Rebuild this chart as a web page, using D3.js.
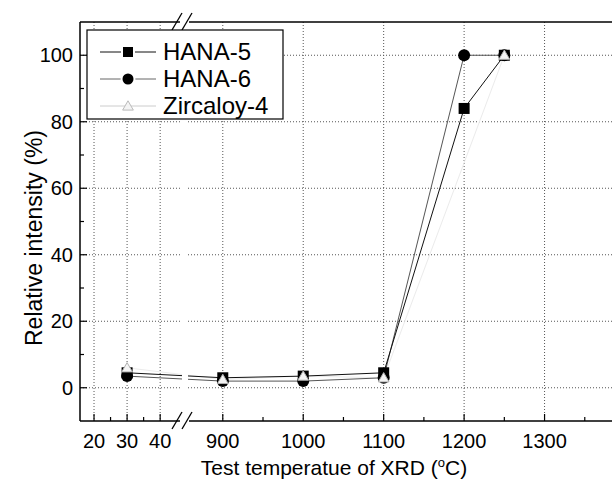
<!DOCTYPE html>
<html><head><meta charset="utf-8">
<script src="https://cdn.jsdelivr.net/npm/d3@7"></script>
<style>body{margin:0;background:#fff}svg{display:block}</style>
</head><body>
<svg id="c" width="612" height="480"></svg>
<script>
const temps = [30, 900, 1000, 1100, 1200, 1250];
const hana5 = [4.5, 3, 3.5, 4.5, 84, 100];
const hana6 = [3.5, 2, 2, 3, 100, 100];
const zircTemps = [30, 900, 1000, 1100, 1250];
const zirc = [6, 2.5, 3.5, 3, 100];
const seriesNames = ["HANA-5", "HANA-6", "Zircaloy-4"];
const xMajorLow = [20, 30, 40];
const xMinorLow = [25, 35];
const xMajorHigh = [900, 1000, 1100, 1200, 1300];
const xMinorHigh = [950, 1050, 1150, 1250, 1350];
const yMajor = [0, 20, 40, 60, 80, 100];
const yMinor = [10, 30, 50, 70, 90];

const svg = d3.select("#c");
const L = 80, T = 22, B = 421, R = 640;
const brkA = 180, brkB = 189;
const x = d3.scaleLinear().domain([15.76, 46, 858, 1400]).range([L, brkA, brkB, 625]);
const y = d3.scaleLinear().domain([-10, 110]).range([B, T]);
const font = "'Liberation Sans', Arial, sans-serif";

// grid
const gx = [...xMajorLow, ...xMajorHigh];
svg.append("g").selectAll("line").data(gx).join("line")
  .attr("x1", d => x(d)).attr("x2", d => x(d)).attr("y1", T).attr("y2", B)
  .attr("stroke", "#555").attr("stroke-width", 1).attr("stroke-dasharray", "1,2");
svg.append("g").selectAll("line").data(yMajor).join("line")
  .attr("x1", L).attr("x2", R).attr("y1", d => y(d)).attr("y2", d => y(d))
  .attr("stroke", "#555").attr("stroke-width", 1).attr("stroke-dasharray", "1,2");

// series
const line = d3.line().x(d => x(d[0])).y(d => y(d[1]));
const s5 = temps.map((t, i) => [t, hana5[i]]);
const s6 = temps.map((t, i) => [t, hana6[i]]);
const sz = zircTemps.map((t, i) => [t, zirc[i]]);
const plot = svg.append("g");
plot.append("path").attr("d", line(sz)).attr("fill", "none").attr("stroke", "#ebebeb").attr("stroke-width", 1);
plot.append("path").attr("d", line(s6)).attr("fill", "none").attr("stroke", "#555").attr("stroke-width", 1);
plot.append("path").attr("d", line(s5)).attr("fill", "none").attr("stroke", "#111").attr("stroke-width", 1);
// break gap over data lines
svg.append("rect").attr("x", brkA + 2).attr("y", T + 2).attr("width", brkB - brkA - 3).attr("height", B - T - 4).attr("fill", "#fff");

const sq = 11;
plot.append("g").selectAll("rect").data(s5).join("rect")
  .attr("x", d => x(d[0]) - sq / 2).attr("y", d => y(d[1]) - sq / 2)
  .attr("width", sq).attr("height", sq).attr("fill", "#000");
plot.append("g").selectAll("circle").data(s6).join("circle")
  .attr("cx", d => x(d[0])).attr("cy", d => y(d[1])).attr("r", 6).attr("fill", "#000");
const tri = d3.symbol().type(d3.symbolTriangle).size(50);
const triG = svg.append("g");
triG.selectAll("path").data(sz).join("path")
  .attr("transform", d => `translate(${x(d[0])},${y(d[1]) + 1})`)
  .attr("d", tri).attr("fill", "#f4f4f4").attr("stroke", "#b0b0b0").attr("stroke-width", 1);

// axes frame
const ax = svg.append("g").attr("stroke", "#000").attr("stroke-width", 1.5);
ax.append("line").attr("x1", L).attr("x2", L).attr("y1", T).attr("y2", B);
ax.append("line").attr("x1", L).attr("x2", brkA).attr("y1", B).attr("y2", B);
ax.append("line").attr("x1", brkB).attr("x2", R).attr("y1", B).attr("y2", B);
ax.append("line").attr("x1", L).attr("x2", brkA).attr("y1", T).attr("y2", T);
ax.append("line").attr("x1", brkB).attr("x2", R).attr("y1", T).attr("y2", T);

// break marks
[B, T].forEach(yy => {
  [brkA - 4, brkB - 3].forEach(xx => {
    svg.append("line").attr("x1", xx - 4).attr("y1", yy + 8).attr("x2", xx + 6).attr("y2", yy - 9)
      .attr("stroke", "#000").attr("stroke-width", 1.3);
  });
});

// ticks
const tk = svg.append("g").attr("stroke", "#000").attr("stroke-width", 1.2);
tk.selectAll(".xM").data(gx).join("line").attr("class", "xM")
  .attr("x1", d => x(d)).attr("x2", d => x(d)).attr("y1", B).attr("y2", B - 7);
tk.selectAll(".xm").data([...xMinorLow, ...xMinorHigh]).join("line").attr("class", "xm")
  .attr("x1", d => x(d)).attr("x2", d => x(d)).attr("y1", B).attr("y2", B - 4);
tk.selectAll(".yM").data(yMajor).join("line").attr("class", "yM")
  .attr("x1", L).attr("x2", L + 7).attr("y1", d => y(d)).attr("y2", d => y(d));
tk.selectAll(".ym").data(yMinor).join("line").attr("class", "ym")
  .attr("x1", L).attr("x2", L + 4).attr("y1", d => y(d)).attr("y2", d => y(d));

// tick labels
svg.append("g").selectAll("text").data(gx).join("text")
  .attr("x", d => x(d)).attr("y", 448).attr("text-anchor", "middle")
  .attr("font-family", font).attr("font-size", 20).text(d => d);
svg.append("g").selectAll("text").data(yMajor).join("text")
  .attr("x", L - 7).attr("y", d => y(d) + 7).attr("text-anchor", "end")
  .attr("font-family", font).attr("font-size", 20).text(d => d);

// axis titles
const xt = svg.append("text").attr("x", 334).attr("y", 475).attr("text-anchor", "middle")
  .attr("font-family", font).attr("font-size", 21);
xt.append("tspan").text("Test temperatue of XRD (");
xt.append("tspan").attr("font-size", 13).attr("dy", -8).text("o");
xt.append("tspan").attr("dy", 8).text("C)");
svg.append("text").attr("transform", "translate(42,238) rotate(-90)").attr("text-anchor", "middle")
  .attr("font-family", font).attr("font-size", 23).text("Relative intensity (%)");

// legend
const lg = svg.append("g");
lg.append("rect").attr("x", 87).attr("y", 30).attr("width", 196).attr("height", 89)
  .attr("fill", "#fff").attr("stroke", "#000").attr("stroke-width", 1.2);
const ly = [52, 79, 106];
const lcol = ["#111", "#666", "#ccc"];
seriesNames.forEach((n, i) => {
  lg.append("line").attr("x1", 100).attr("x2", 156).attr("y1", ly[i]).attr("y2", ly[i])
    .attr("stroke", lcol[i]).attr("stroke-width", 1);
  if (i === 0) lg.append("rect").attr("x", 128 - 6).attr("y", ly[i] - 6).attr("width", 12).attr("height", 12).attr("fill", "#000").attr("stroke", "#fff").attr("stroke-width", 2);
  if (i === 1) lg.append("circle").attr("cx", 128).attr("cy", ly[i]).attr("r", 6.5).attr("fill", "#000").attr("stroke", "#fff").attr("stroke-width", 2);
  if (i === 2) lg.append("path").attr("transform", `translate(128,${ly[i] + 1})`).attr("d", tri)
    .attr("fill", "#f4f4f4").attr("stroke", "#bbb");
  lg.append("text").attr("x", 163).attr("y", ly[i] + 8).attr("font-family", font).attr("font-size", 24).text(n);
});
</script>
</body></html>
